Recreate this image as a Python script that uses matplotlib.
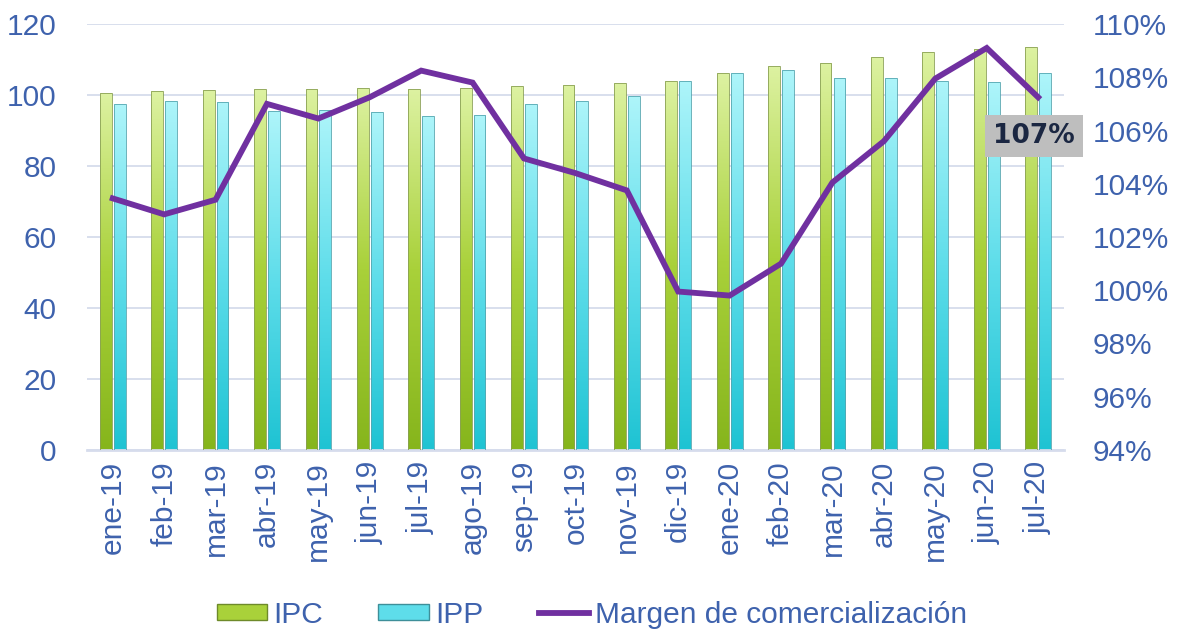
import numpy as np
import matplotlib
matplotlib.use("Agg")
import matplotlib.pyplot as plt
from matplotlib.colors import LinearSegmentedColormap
from matplotlib.patches import Patch
from matplotlib.lines import Line2D
from matplotlib.ticker import FuncFormatter

plt.rcParams["font.family"] = ["Liberation Sans", "DejaVu Sans"]

# ----------------------------------------------------------------------
# Data
# ----------------------------------------------------------------------
meses = ["ene-19", "feb-19", "mar-19", "abr-19", "may-19", "jun-19",
         "jul-19", "ago-19", "sep-19", "oct-19", "nov-19", "dic-19",
         "ene-20", "feb-20", "mar-20", "abr-20", "may-20", "jun-20",
         "jul-20"]
ipc = [100.6, 101.1, 101.3, 101.6, 101.7, 102.0, 101.8, 101.9, 102.4,
       102.9, 103.5, 104.0, 106.3, 108.2, 109.1, 110.8, 112.1, 113.0,
       113.6]
ipp = [97.4, 98.4, 98.1, 95.4, 95.8, 95.3, 94.1, 94.5, 97.6, 98.4,
       99.7, 104.0, 106.3, 107.0, 104.8, 104.8, 104.0, 103.7, 106.1]
margen = [103.45, 102.85, 103.4, 107.0, 106.45, 107.25, 108.25, 107.8,
          104.95, 104.4, 103.75, 99.95, 99.8, 101.0, 104.05, 105.6,
          107.95, 109.1, 107.25]
etiqueta_final = "107%"

TXT = "#3E62AD"
GRID = "#D6DCEC"
PURPLE = "#7030A0"
FS = 21.5

green_cmap = LinearSegmentedColormap.from_list("g", ["#86B51C", "#A9D13A", "#DDF2A2"])
cyan_cmap = LinearSegmentedColormap.from_list("c", ["#1EC3D3", "#5EDDEA", "#AEF5FA"])


def gradient_bars(ax, bars, cmap):
    # fill each bar with a vertical gradient, clipped to the bar shape
    grad = np.linspace(0, 1, 256).reshape(-1, 1)
    for b in bars:
        x0, y0 = b.get_x(), b.get_y()
        w, h = b.get_width(), b.get_height()
        im = ax.imshow(grad, cmap=cmap, origin="lower", aspect="auto",
                       extent=[x0, x0 + w, y0, y0 + h], zorder=2)
        im.set_clip_path(b)
        b.set_facecolor("none")


fig = plt.figure(figsize=(11.84, 6.37), dpi=100)
ax = fig.add_axes([0.0735, 0.2936, 0.825, 0.6687])
ax2 = ax.twinx()

x = np.arange(len(meses))
w = 0.23
b1 = ax.bar(x - 0.135, ipc, w, color="#A9D13A", edgecolor="#8AA055",
            linewidth=0.6, zorder=3)
b2 = ax.bar(x + 0.135, ipp, w, color="#5EDDEA", edgecolor="#55A6B0",
            linewidth=0.6, zorder=3)
gradient_bars(ax, b1, green_cmap)
gradient_bars(ax, b2, cyan_cmap)

ax.set_xlim(-0.5, len(meses) - 0.5)
ax.set_ylim(0, 120)
ax.set_yticks(range(0, 121, 20))
ax.yaxis.grid(True, color=GRID, lw=1.3, zorder=0)
ax.set_axisbelow(True)
ax.set_xticks(x)
ax.set_xticklabels(meses, rotation=90)
ax.tick_params(axis="both", length=0, labelsize=FS, colors=TXT)
ax.tick_params(axis="y", pad=22)
ax.tick_params(axis="x", pad=8)
for s in ["top", "right", "left"]:
    ax.spines[s].set_visible(False)
ax.spines["bottom"].set_color(GRID)
ax.spines["bottom"].set_linewidth(2)

ax2.plot(x, margen, color=PURPLE, lw=4.2, solid_joinstyle="miter", zorder=5)
ax2.set_ylim(94, 110)
ax2.set_yticks(range(94, 111, 2))
ax2.yaxis.set_major_formatter(FuncFormatter(lambda v, p: f"{v:.0f}%"))
ax2.tick_params(axis="y", length=0, labelsize=FS, colors=TXT, pad=21)
for s in ax2.spines.values():
    s.set_visible(False)

ax2.annotate(etiqueta_final, xy=(x[-1], margen[-1]), xytext=(-3, -28),
             textcoords="offset points", ha="center", va="center",
             fontsize=19, fontweight="bold", color="#1B2742",
             family=["DejaVu Sans"],
             bbox=dict(boxstyle="square,pad=0.3", facecolor="#BEBEBE",
                       edgecolor="none"), zorder=6)

handles = [Patch(facecolor="#A9D13A", edgecolor="#6E8A2A"),
           Patch(facecolor="#5EDDEA", edgecolor="#3E8F99"),
           Line2D([0], [0], color=PURPLE, lw=4.2)]
fig.legend(handles, ["IPC", "IPP", "Margen de comercialización"],
           loc="center", bbox_to_anchor=(0.5, 0.035), ncol=3, frameon=False,
           fontsize=FS, labelcolor=TXT, handlelength=1.7, handleheight=0.45,
           handletextpad=0.2, columnspacing=1.85)

fig.savefig("out.png", dpi=100)
